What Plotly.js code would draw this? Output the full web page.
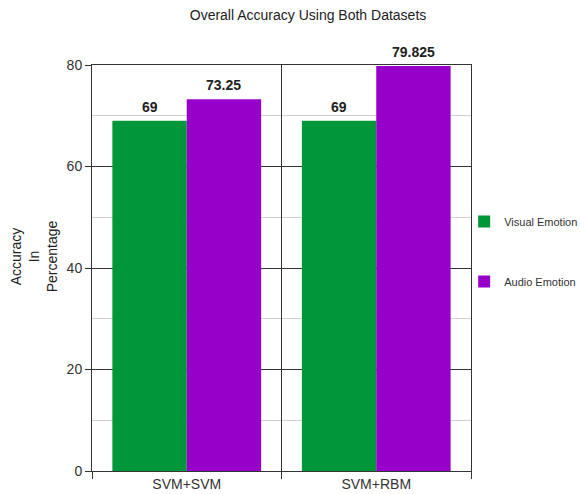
<!DOCTYPE html>
<html>
<head>
<meta charset="utf-8">
<script src="https://cdn.plot.ly/plotly-3.0.1.min.js"></script>
<style>
  html, body { margin: 0; padding: 0; background: #fff; }
  #chart { width: 580px; height: 494px; }
</style>
</head>
<body>
<div id="chart"></div>
<script>
// Classifier combinations on the x axis
const categories = ['SVM+SVM', 'SVM+RBM'];
// Accuracy (%) per modality
const visualEmotion = [69, 69];
const audioEmotion = [73.25, 79.825];
const seriesNames = ['Visual Emotion', 'Audio Emotion'];
const yTicks = [0, 20, 40, 60, 80];

const colors = ['#009639', '#9600c8'];
const bargap = 0.215;
const font = 'Liberation Sans, Arial, sans-serif';

const series = [visualEmotion, audioEmotion];

const traces = series.map((vals, i) => ({
  type: 'bar',
  name: seriesNames[i],
  x: categories,
  y: vals,
  legendgroup: 'g' + i,
  marker: { color: colors[i], line: { width: 0 } },
  hoverinfo: 'x+y+name'
}));

// Value labels above each bar, positioned at the grouped-bar centres
const barW = (1 - bargap) / series.length;
const annotations = [];
series.forEach((vals, i) => {
  const offset = -(1 - bargap) / 2 + barW * (i + 0.5);
  vals.forEach((v, j) => {
    annotations.push({
      x: j + offset, y: v, xref: 'x', yref: 'y',
      text: '<b>' + v + '</b>',
      showarrow: false, yanchor: 'bottom', yshift: 4,
      font: { family: font, size: 14, color: '#222' }
    });
  });
});

// Three-line y-axis title
annotations.push({
  xref: 'paper', yref: 'paper', x: -0.154, y: 0.528,
  xanchor: 'center', yanchor: 'middle', textangle: -90,
  text: 'Accuracy<br>In<br>Percentage', showarrow: false,
  font: { family: font, size: 14, color: '#222' }
});

const layout = {
  width: 580, height: 494,
  margin: { l: 92, r: 109, t: 65, b: 23, pad: 0, autoexpand: false },
  paper_bgcolor: '#fff', plot_bgcolor: '#fff',
  font: { family: font, size: 14, color: '#333' },
  title: {
    text: 'Overall Accuracy Using Both Datasets',
    x: 0.57, xref: 'paper', xanchor: 'center',
    y: 0.97, yref: 'container', yanchor: 'middle',
    font: { family: font, size: 14, color: '#222' }
  },
  barmode: 'group', bargap: bargap, bargroupgap: 0,
  showlegend: true,
  legend: {
    x: 0.982, xanchor: 'left', y: 0.65, yanchor: 'top',
    traceorder: 'grouped', tracegroupgap: 41,
    font: { family: font, size: 11, color: '#333' },
    bgcolor: 'rgba(0,0,0,0)'
  },
  xaxis: {
    type: 'category', tickson: 'boundaries',
    showline: true, linecolor: '#333', linewidth: 1, mirror: true,
    ticks: 'outside', ticklen: 7, tickcolor: '#333',
    showgrid: true, gridcolor: '#333', gridwidth: 1,
    tickfont: { family: font, size: 14, color: '#333' },
    fixedrange: true
  },
  yaxis: {
    range: [0, 80], tickvals: yTicks, ticktext: yTicks.map(String),
    showline: true, linecolor: '#333', linewidth: 1, mirror: true,
    ticks: 'outside', ticklen: 6, tickcolor: '#333',
    showgrid: true, gridcolor: '#333', gridwidth: 1,
    zeroline: false,
    minor: { dtick: 10, showgrid: true, gridcolor: '#d0d0d0', gridwidth: 1, ticks: '' },
    tickfont: { family: font, size: 14, color: '#333' },
    fixedrange: true
  },
  annotations: annotations
};

Plotly.newPlot('chart', traces, layout, { displayModeBar: false, staticPlot: true });
</script>
</body>
</html>
